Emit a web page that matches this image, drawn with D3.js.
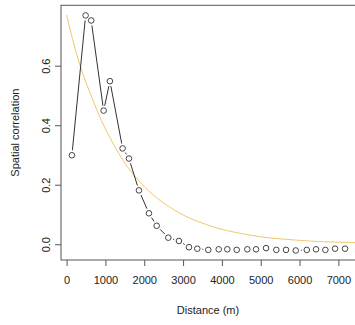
<!DOCTYPE html>
<html>
<head>
<meta charset="utf-8">
<script src="https://cdn.jsdelivr.net/npm/d3@7"></script>
<style>
  html, body { margin: 0; padding: 0; background: #fff; }
  svg { display: block; }
  text { font-family: "Liberation Sans", Arial, Helvetica, sans-serif; fill: #222; }
</style>
</head>
<body>
<svg id="chart" width="355" height="325"></svg>
<script>
// Empirical spatial correlation (distance in m, correlation)
const distances = [137, 490, 634, 954, 1116, 1443, 1606, 1863, 2121, 2320, 2619, 2894,
  3152, 3366, 3649, 3918, 4139, 4381, 4655, 4879, 5137, 5402, 5652, 5902, 6186, 6425, 6665, 6915, 7173];
const correlations = [0.299, 0.769, 0.752, 0.449, 0.548, 0.322, 0.288, 0.181, 0.104, 0.062, 0.022, 0.011,
  -0.010, -0.015, -0.019, -0.017, -0.017, -0.019, -0.017, -0.017, -0.013, -0.019, -0.019, -0.021, -0.019, -0.017, -0.019, -0.015, -0.015];

// Fitted model curve
const fitDistances = [0, 300, 600, 900, 1200, 1500, 1800, 2100, 2400, 2800, 3200, 3600, 4000, 4500, 5000, 5500, 6000, 6500, 7000, 7600];
const fitValues = [0.770, 0.620, 0.510, 0.415, 0.338, 0.273, 0.222, 0.181, 0.148, 0.113, 0.086, 0.066, 0.050, 0.036, 0.025, 0.018, 0.013, 0.009, 0.007, 0.005];

const xTicks = [0, 1000, 2000, 3000, 4000, 5000, 6000, 7000];
const yTicks = [0.0, 0.2, 0.4, 0.6];
const xLabel = "Distance (m)";
const yLabel = "Spatial correlation";

const svg = d3.select("#chart");
const L = 61, R = 356, T = 5.3, B = 260;

const x = d3.scaleLinear().domain([-144, 7454]).range([L, R]);
const y = d3.scaleLinear().domain([-0.053, 0.803]).range([B, T]);

svg.append("defs").append("clipPath").attr("id", "clip")
  .append("rect").attr("x", L).attr("y", T).attr("width", R - L).attr("height", B - T);

// Plot box
svg.append("rect").attr("x", L).attr("y", T).attr("width", R - L).attr("height", B - T)
  .attr("fill", "none").attr("stroke", "#555").attr("stroke-width", 1);

// X axis
const xAxis = svg.append("g").attr("transform", `translate(0,${B})`)
  .call(d3.axisBottom(x).tickValues(xTicks).tickFormat(d3.format("d")).tickSize(6).tickPadding(10));
xAxis.select(".domain").remove();
xAxis.selectAll("line").attr("stroke", "#555");
xAxis.selectAll("text").attr("font-size", "11px").attr("fill", "#222")
  .style("font-family", "'Liberation Sans', Arial, sans-serif");

// Y axis
const yAxis = svg.append("g").attr("transform", `translate(${L},0)`)
  .call(d3.axisLeft(y).tickValues(yTicks).tickFormat(d3.format(".1f")).tickSize(6).tickPadding(0));
yAxis.select(".domain").remove();
yAxis.selectAll("line").attr("stroke", "#555");
yAxis.selectAll("text")
  .attr("font-size", "11px").attr("fill", "#222")
  .style("font-family", "'Liberation Sans', Arial, sans-serif")
  .attr("x", null).attr("dy", null)
  .attr("text-anchor", "middle")
  .attr("transform", "translate(-15,0) rotate(-90)")
  .attr("y", 4);

// Axis titles
svg.append("text").attr("x", (L + R) / 2 - 0.5).attr("y", 314)
  .attr("text-anchor", "middle").attr("font-size", "11px").text(xLabel);
svg.append("text").attr("transform", `translate(19,${(T + B) / 2}) rotate(-90)`)
  .attr("text-anchor", "middle").attr("font-size", "11px").text(yLabel);

const plot = svg.append("g").attr("clip-path", "url(#clip)");

// Fitted curve
const fit = fitDistances.map((d, i) => [d, fitValues[i]]);
plot.append("path").datum(fit)
  .attr("fill", "none").attr("stroke", "#efc66e").attr("stroke-width", 1)
  .attr("d", d3.line().x(d => x(d[0])).y(d => y(d[1])).curve(d3.curveNatural));

// Points joined by lines with gaps (type "b")
const pts = distances.map((d, i) => ({ px: x(d), py: y(correlations[i]) }));
const gap = 5;
const segs = [];
for (let i = 0; i < pts.length - 1; i++) {
  const a = pts[i], b = pts[i + 1];
  const dx = b.px - a.px, dy = b.py - a.py;
  const len = Math.hypot(dx, dy);
  if (len > 2 * gap + 1) {
    const ux = dx / len, uy = dy / len;
    segs.push([a.px + ux * gap, a.py + uy * gap, b.px - ux * gap, b.py - uy * gap]);
  }
}
plot.selectAll("line.seg").data(segs).join("line").attr("class", "seg")
  .attr("x1", d => d[0]).attr("y1", d => d[1]).attr("x2", d => d[2]).attr("y2", d => d[3])
  .attr("stroke", "#333").attr("stroke-width", 1);

plot.selectAll("circle.pt").data(pts).join("circle").attr("class", "pt")
  .attr("cx", d => d.px).attr("cy", d => d.py).attr("r", 2.8)
  .attr("fill", "none").attr("stroke", "#444").attr("stroke-width", 1);
</script>
</body>
</html>
